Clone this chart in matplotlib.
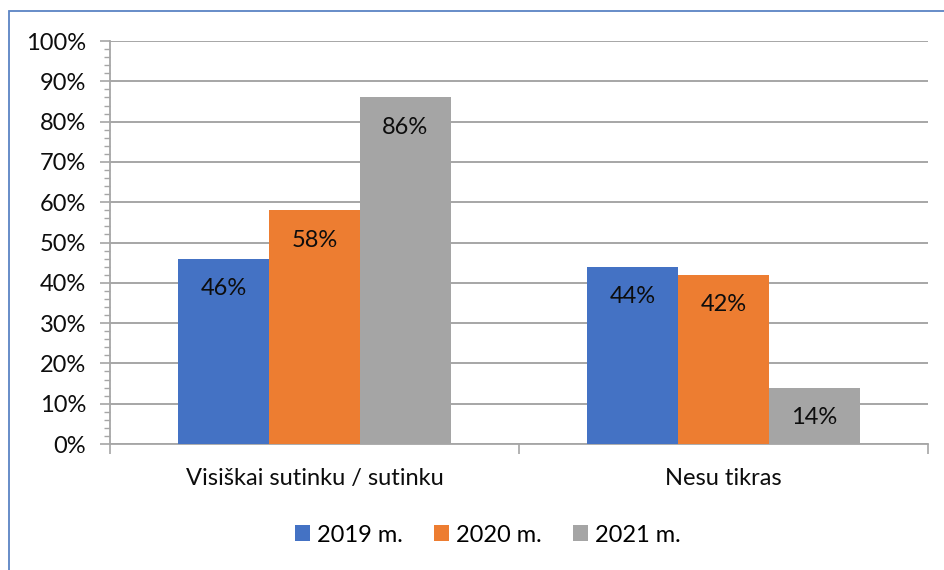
import numpy as np
import matplotlib
matplotlib.use('Agg')
import matplotlib.pyplot as plt
from matplotlib.patches import Rectangle
from matplotlib.ticker import MultipleLocator, PercentFormatter

categories = ['Visiškai sutinku / sutinku', 'Nesu tikras']
years = ['2019 m.', '2020 m.', '2021 m.']
v2019 = [46, 44]
v2020 = [58, 42]
v2021 = [86, 14]
colors = ['#4472c4', '#ed7d31', '#a5a5a5']

plt.rcParams['font.family'] = ['Lato', 'DejaVu Sans']
fs = 17

fig = plt.figure(figsize=(9.44, 5.70), dpi=100)
ax = fig.add_axes([0.1165, 0.221, 0.8665, 0.707])

# border of the chart area (only left and top are visible in the picture)
fig.patches.append(Rectangle((9/944, -0.1), 1.2, 1 - 11/570 + 0.1, transform=fig.transFigure,
                             fill=False, edgecolor='#5b84c4', linewidth=1.3))

x = np.arange(len(categories))
w = 0.222
for i, (vals, lab) in enumerate(zip([v2019, v2020, v2021], years)):
    pos = x + (i - 1) * w
    ax.bar(pos, vals, width=w, color=colors[i], label=lab, zorder=3)
    for xp, v in zip(pos, vals):
        ax.text(xp, v - 7.4, f'{v}%', ha='center', va='center', fontsize=fs, color='#0d0d0d', zorder=4)

ax.set_xlim(-0.5, 1.5)
ax.set_ylim(0, 100)
ax.yaxis.set_major_locator(MultipleLocator(10))
ax.yaxis.set_minor_locator(MultipleLocator(2))
ax.yaxis.set_major_formatter(PercentFormatter(decimals=0))
ax.grid(axis='y', which='major', color='#a6a6a6', linewidth=1.4, zorder=0)

ax.set_xticks([-0.5, 0.5, 1.5])
ax.set_xticklabels([])
ax.set_xticks(x, minor=True)
ax.set_xticklabels(categories, minor=True)
ax.tick_params(axis='x', which='major', length=7, color='#a6a6a6', width=1.2)
ax.tick_params(axis='x', which='minor', length=0, pad=17, labelsize=fs, labelcolor='#0d0d0d')
ax.tick_params(axis='y', which='major', length=7, color='#a6a6a6', width=1.2, pad=10,
               labelsize=fs, labelcolor='#0d0d0d')
ax.tick_params(axis='y', which='minor', length=4, color='#a6a6a6', width=1.0)

for s in ['top', 'right']:
    ax.spines[s].set_visible(False)
for s in ['left', 'bottom']:
    ax.spines[s].set_color('#a6a6a6')
    ax.spines[s].set_linewidth(1.3)

fig.legend(loc='center', bbox_to_anchor=(488/944, 1 - 535/570), ncol=3, frameon=False,
           fontsize=fs, handlelength=0.65, handleheight=0.65, handletextpad=0.3, columnspacing=1.3)

fig.savefig('out.png', dpi=100)
